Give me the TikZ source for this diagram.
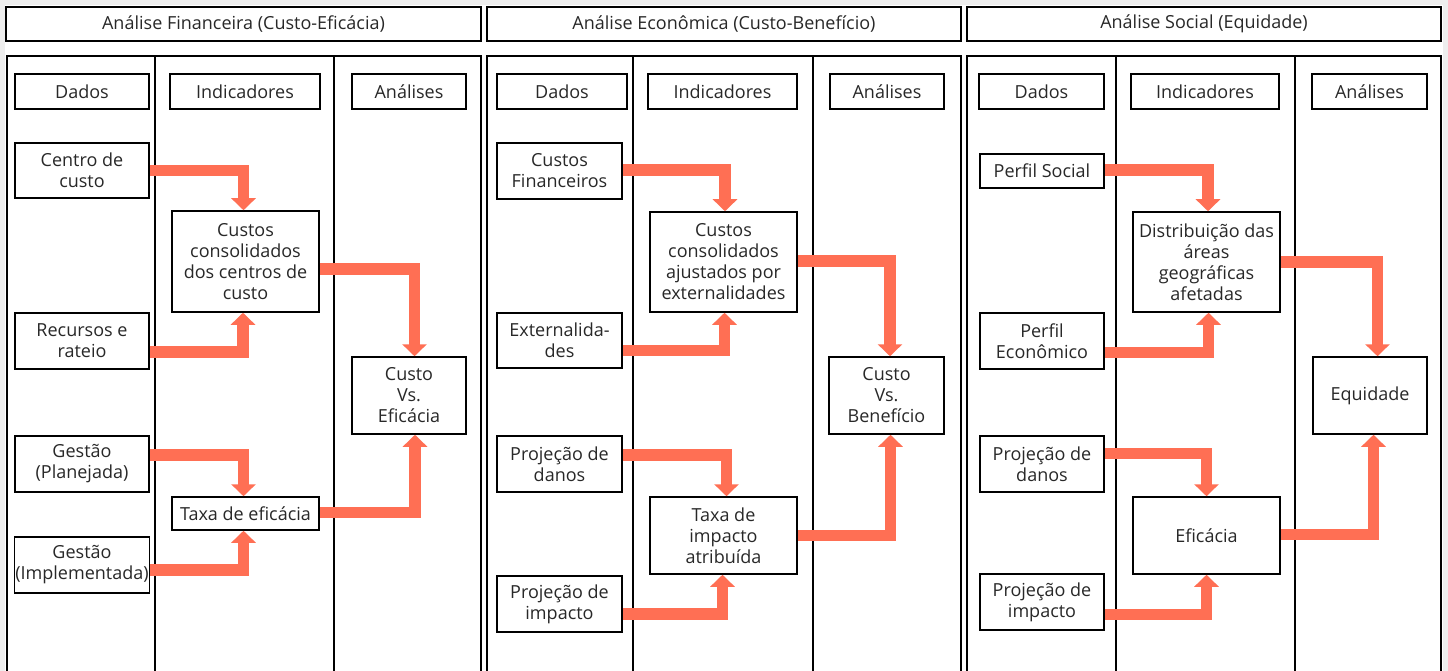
\documentclass[tikz,border=0pt]{standalone}
\usepackage{fontspec}
\setmainfont{Open Sans}
\usetikzlibrary{arrows.meta, calc}
\definecolor{flowred}{RGB}{255, 111, 84}
\definecolor{ink}{RGB}{40, 40, 40}
\definecolor{pagegray}{RGB}{238, 238, 238}

\begin{document}
\begin{tikzpicture}[x=1pt, y=-1pt,
  box/.style={draw=black, line width=1.5pt, fill=white, text=ink, align=center, inner sep=1pt, font=\fontsize{18}{21}\selectfont},
  panel/.style={draw=black, line width=2.4pt},
  flow/.style={draw=flowred, line width=11.5pt, line join=miter, -{Triangle[width=24pt, length=12pt]}}]

  % page
  \path[use as bounding box] (0,0) rectangle (1448,671);
  \clip (0,0) rectangle (1448,671);
  \fill[pagegray] (0,0) rectangle (1448,671);
  \fill[white] (5,5) rectangle (1443,680);

  % Headers
  \node[box, line width=2.2pt, minimum width=475, minimum height=34] (h1) at (243.5,24) {Análise Financeira (Custo-Eficácia)};
  \node[box, line width=2.2pt, minimum width=474, minimum height=34] (h2) at (724,24) {Análise Econômica (Custo-Benefício)};
  \node[box, line width=2.2pt, minimum width=474, minimum height=34] (h3) at (1204,24) {Análise Social (Equidade)};

  % Panels and columns
  \draw[panel] (7,700) |- (481,56) -- (481,700);
  \draw[panel] (487,700) |- (961,56) -- (961,700);
  \draw[panel] (967,700) |- (1441,56) -- (1441,700);
  \foreach \cx in {155, 334, 633, 813, 1116, 1295}
    \draw[panel, line width=2pt] (\cx,56) -- (\cx,700);

  % Column titles
  \node[box, minimum width=134, minimum height=35] (d1) at (82,91.5) {Dados};
  \node[box, minimum width=150, minimum height=35] (i1) at (245,91.5) {Indicadores};
  \node[box, minimum width=114, minimum height=35] (a1) at (409,91.5) {Análises};
  \node[box, minimum width=130, minimum height=35] (d2) at (562,91.5) {Dados};
  \node[box, minimum width=149, minimum height=35] (i2) at (722.5,91.5) {Indicadores};
  \node[box, minimum width=114, minimum height=35] (a2) at (887,91.5) {Análises};
  \node[box, minimum width=125, minimum height=35] (d3) at (1041.5,91.5) {Dados};
  \node[box, minimum width=148, minimum height=35] (i3) at (1205,91.5) {Indicadores};
  \node[box, minimum width=115, minimum height=35] (a3) at (1369.5,91.5) {Análises};

  % Financeira
  \node[box, minimum width=134, minimum height=55] (cc) at (82,170.5) {Centro de\\custo};
  \node[box, minimum width=134, minimum height=56] (rr) at (82,341) {Recursos e\\rateio};
  \node[box, minimum width=134, minimum height=56] (gp) at (82,464) {Gestão\\(Planejada)};
  \node[box, minimum width=134, minimum height=56] (gi) at (82,565) {Gestão\\(Implementada)};
  \node[box, minimum width=147, minimum height=101] (ccd) at (245.5,261.5) {Custos\\consolidados\\dos centros de\\custo};
  \node[box, minimum width=147, minimum height=33] (te) at (245.5,513.5) {Taxa de eficácia};
  \node[box, minimum width=114, minimum height=77] (cv) at (409,395.5) {Custo\\Vs.\\Eficácia};

  % Economica
  \node[box, minimum width=125, minimum height=56] (cf) at (559.5,171) {Custos\\Financeiros};
  \node[box, minimum width=125, minimum height=55] (ext) at (559.5,340.5) {Externalida-\\des};
  \node[box, minimum width=125, minimum height=56] (pd) at (559.5,464) {Projeção de\\danos};
  \node[box, minimum width=125, minimum height=56] (pi) at (559.5,604) {Projeção de\\impacto};
  \node[box, minimum width=147, minimum height=100] (cca) at (723.5,262) {Custos\\consolidados\\ajustados por\\externalidades};
  \node[box, minimum width=147, minimum height=77] (ti) at (723.5,535.5) {Taxa de\\impacto\\atribuída};
  \node[box, minimum width=115, minimum height=77] (cvb) at (886.5,395.5) {Custo\\Vs.\\Benefício};

  % Social
  \node[box, minimum width=124, minimum height=34] (ps) at (1042,171) {Perfil Social};
  \node[box, minimum width=124, minimum height=56] (pe) at (1042,341) {Perfil\\Econômico};
  \node[box, minimum width=124, minimum height=56] (pds) at (1042,464) {Projeção de\\danos};
  \node[box, minimum width=124, minimum height=56] (pis) at (1042,602) {Projeção de\\impacto};
  \node[box, minimum width=147, minimum height=100] (da) at (1206.5,262) {Distribuição das\\áreas\\geográficas\\afetadas};
  \node[box, minimum width=147, minimum height=77] (ef) at (1206.5,535.5) {Eficácia};
  \node[box, minimum width=114, minimum height=77] (eq) at (1370,395.5) {Equidade};

  % Flows
  \draw[flow] (cc.east) -| ($(ccd.north)+(-2,0)$);
  \draw[flow] ($(rr.east)+(0,11)$) -| ($(ccd.south)+(-2.5,0)$);
  \draw[flow] ($(ccd.east)+(0,7.5)$) -| ($(cv.north)+(5.5,0)$);
  \draw[flow] ($(gp.east)+(0,-9)$) -| ($(te.north)+(-2,0)$);
  \draw[flow] ($(gi.east)+(0,5)$) -| ($(te.south)+(-2,0)$);
  \draw[flow] ($(te.east)+(0,-1)$) -| ($(cv.south)+(6,0)$);

  \draw[flow] ($(cf.east)+(0,-1)$) -| ($(cca.north)+(1.5,0)$);
  \draw[flow] ($(ext.east)+(0,10)$) -| ($(cca.south)+(1,0)$);
  \draw[flow] ($(cca.east)+(0,-1)$) -| ($(cvb.north)+(3.5,0)$);
  \draw[flow] ($(pd.east)+(0,-9)$) -| ($(ti.north)+(3,0)$);
  \draw[flow] ($(pi.east)+(0,10)$) -| ($(ti.south)+(-1,0)$);
  \draw[flow] (ti.east) -| ($(cvb.south)+(4,0)$);

  \draw[flow] ($(ps.east)+(0,-1)$) -| ($(da.north)+(1.5,0)$);
  \draw[flow] ($(pe.east)+(0,11.5)$) -| ($(da.south)+(2,0)$);
  \draw[flow] (da.east) -| ($(eq.north)+(7.5,0)$);
  \draw[flow] ($(pds.east)+(0,-10.5)$) -| (ef.north);
  \draw[flow] ($(pis.east)+(0,12.5)$) -| (ef.south);
  \draw[flow] ($(ef.east)+(0,-1)$) -| ($(eq.south)+(3.5,0)$);
\end{tikzpicture}
\end{document}
